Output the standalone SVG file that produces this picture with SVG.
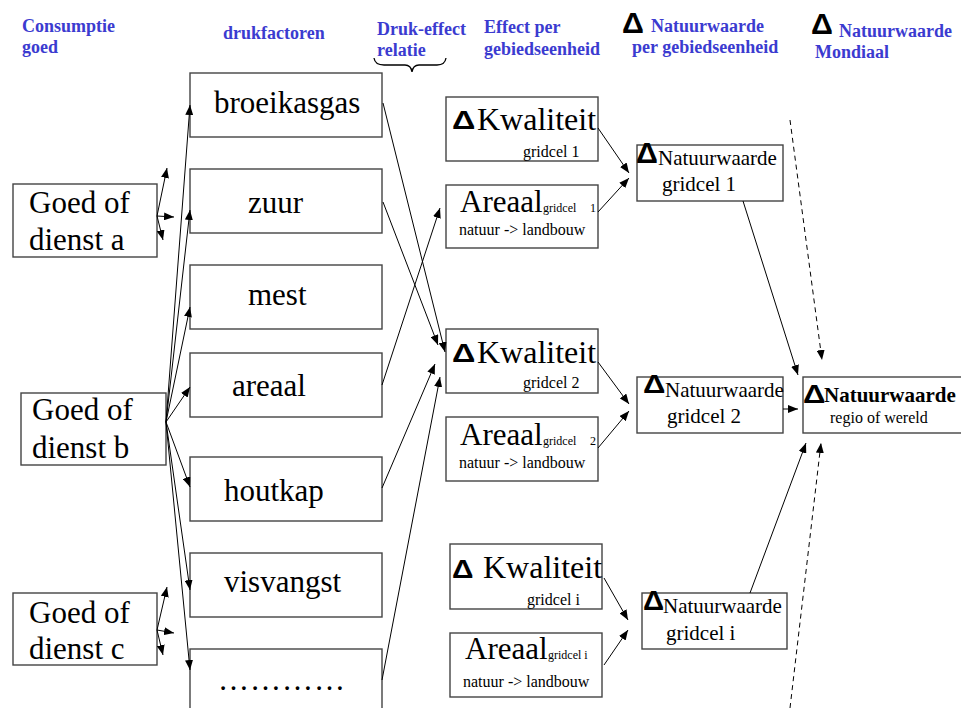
<svg xmlns="http://www.w3.org/2000/svg" width="961" height="708" viewBox="0 0 961 708">
<defs>
<marker id="ah" markerWidth="10" markerHeight="8" refX="10" refY="4" orient="auto" markerUnits="userSpaceOnUse">
<path d="M0,0 L10,4 L0,8 z" fill="#000"/>
</marker>
<style>
.hd{font-family:"Liberation Serif","Times New Roman",serif;font-weight:bold;font-size:18px;fill:#3b3bd0}
.box{fill:#fff;stroke:#444;stroke-width:1.4}
.big{font-family:"Liberation Serif","Times New Roman",serif;font-size:31px;fill:#000}
.kw{font-family:"Liberation Serif","Times New Roman",serif;font-size:32px;fill:#000}
.med{font-family:"Liberation Serif","Times New Roman",serif;font-size:21px;fill:#000}
.sm{font-family:"Liberation Serif","Times New Roman",serif;font-size:16px;fill:#000}
.xs{font-family:"Liberation Serif","Times New Roman",serif;font-size:12px;fill:#000}
.tri{font-family:"Liberation Sans",Arial,sans-serif;font-weight:bold;fill:#000}
.ln{stroke:#000;stroke-width:1;fill:none;marker-end:url(#ah)}
.dl{stroke:#000;stroke-width:1;fill:none;stroke-dasharray:5,4;marker-end:url(#ah)}
</style>
</defs>
<rect width="961" height="708" fill="#fff"/>

<g id="headers">
<text class="hd" x="22" y="32">Consumptie</text>
<text class="hd" x="22" y="53">goed</text>
<text class="hd" x="223" y="39">drukfactoren</text>
<text class="hd" x="377" y="35">Druk-effect</text>
<text class="hd" x="377" y="56">relatie</text>
<path d="M374,58 Q375,65 384,65 L405,65 Q411,65 412,72 Q413,65 419,65 L437,65 Q445,65 446,58" stroke="#000" stroke-width="1.3" fill="none"/>
<text class="hd" x="484" y="33">Effect per</text>
<text class="hd" x="484" y="55">gebiedseenheid</text>
<text class="tri" transform="translate(622,33) scale(1.05,1)" font-size="29">Δ</text>
<text class="hd" x="651" y="32">Natuurwaarde</text>
<text class="hd" x="632" y="53">per gebiedseenheid</text>
<text class="tri" transform="translate(811,34) scale(1.05,1)" font-size="29">Δ</text>
<text class="hd" x="839" y="37">Natuurwaarde</text>
<text class="hd" x="815" y="58">Mondiaal</text>
</g>

<g id="goed-a"><rect class="box" x="13" y="184" width="144" height="73"/><text class="big" x="29" y="213">Goed of</text><text class="big" x="29" y="250">dienst a</text></g>
<g id="goed-b"><rect class="box" x="21" y="393" width="145" height="72"/><text class="big" x="32" y="420">Goed of</text><text class="big" x="32" y="458">dienst b</text></g>
<g id="goed-c"><rect class="box" x="13" y="593" width="144" height="72"/><text class="big" x="29" y="623">Goed of</text><text class="big" x="29" y="659">dienst c</text></g>

<g id="broeikasgas"><rect class="box" x="190" y="73" width="192" height="64"/><text class="big" x="214" y="113">broeikasgas</text></g>
<g id="zuur"><rect class="box" x="190" y="169" width="192" height="64"/><text class="big" x="248" y="213">zuur</text></g>
<g id="mest"><rect class="box" x="190" y="265" width="192" height="64"/><text class="big" x="248" y="305">mest</text></g>
<g id="areaal"><rect class="box" x="190" y="353" width="192" height="64"/><text class="big" x="232" y="396">areaal</text></g>
<g id="houtkap"><rect class="box" x="190" y="457" width="192" height="64"/><text class="big" x="224" y="501">houtkap</text></g>
<g id="visvangst"><rect class="box" x="190" y="553" width="192" height="64"/><text class="big" x="224" y="592">visvangst</text></g>
<g id="overig"><rect class="box" x="190" y="649" width="192" height="70"/><text class="big" x="218" y="690" letter-spacing="1">…………</text></g>

<g id="kwaliteit-1"><rect class="box" x="446" y="97" width="152" height="64"/><text class="tri" transform="translate(452,129) scale(1.25,1)" font-size="26">Δ</text><text class="kw" x="477" y="130">Kwaliteit</text><text class="sm" x="523" y="157" font-size="18">gridcel 1</text></g>
<g id="areaal-1"><rect class="box" x="446" y="185" width="152" height="63"/><text class="big" x="460" y="212">Areaal</text><text class="xs" x="543" y="212">gridcel</text><text class="xs" x="590" y="212">1</text><text class="sm" x="459" y="235">natuur -&gt; landbouw</text></g>
<g id="kwaliteit-2"><rect class="box" x="446" y="329" width="152" height="64"/><text class="tri" transform="translate(452,362) scale(1.25,1)" font-size="26">Δ</text><text class="kw" x="477" y="363">Kwaliteit</text><text class="sm" x="523" y="388" font-size="18">gridcel 2</text></g>
<g id="areaal-2"><rect class="box" x="446" y="417" width="152" height="64"/><text class="big" x="460" y="445">Areaal</text><text class="xs" x="543" y="445">gridcel</text><text class="xs" x="590" y="445">2</text><text class="sm" x="459" y="468">natuur -&gt; landbouw</text></g>
<g id="kwaliteit-i"><rect class="box" x="450" y="544" width="152" height="65"/><text class="tri" transform="translate(452,578) scale(1.15,1)" font-size="26">Δ</text><text class="kw" x="483" y="578">Kwaliteit</text><text class="sm" x="527" y="605" font-size="18">gridcel i</text></g>
<g id="areaal-i"><rect class="box" x="450" y="633" width="152" height="64"/><text class="big" x="465" y="659">Areaal</text><text class="xs" x="548" y="659">gridcel i</text><text class="sm" x="463" y="687">natuur -&gt; landbouw</text></g>

<g id="nw-1"><rect class="box" x="637" y="145" width="146" height="56"/><text class="tri" transform="translate(636,163) scale(1.05,1)" font-size="29">Δ</text><text class="med" x="658" y="165">Natuurwaarde</text><text class="med" x="662" y="191">gridcel 1</text></g>
<g id="nw-2"><rect class="box" x="637" y="377" width="146" height="56"/><text class="tri" transform="translate(643,393) scale(1.2,1)" font-size="26">Δ</text><text class="med" x="665" y="397">Natuurwaarde</text><text class="med" x="667" y="423">gridcel 2</text></g>
<g id="nw-i"><rect class="box" x="642" y="593" width="145" height="56"/><text class="tri" transform="translate(643,610) scale(1.05,1)" font-size="28">Δ</text><text class="med" x="663" y="613">Natuurwaarde</text><text class="med" x="666" y="640">gridcel i</text></g>
<g id="nw-wereld"><rect class="box" x="803" y="377" width="170" height="56"/><text class="tri" transform="translate(803,403) scale(1.2,1)" font-size="26">Δ</text><text class="med" x="824" y="402" font-weight="bold">Natuurwaarde</text><text class="sm" x="830" y="423" font-size="18">regio of wereld</text></g>

<g id="connectors">
<path class="ln" d="M157,216 L167,168"/>
<path class="ln" d="M157,216 L174,217"/>
<path class="ln" d="M157,216 L163,240"/>
<path class="ln" d="M166,422 L190,105"/>
<path class="ln" d="M166,422 L190,210"/>
<path class="ln" d="M166,422 L190,307"/>
<path class="ln" d="M166,422 L190,387"/>
<path class="ln" d="M166,422 L190,487"/>
<path class="ln" d="M166,422 L190,590"/>
<path class="ln" d="M166,422 L190,670"/>
<path class="ln" d="M157,630 L167,587"/>
<path class="ln" d="M157,630 L174,633"/>
<path class="ln" d="M157,630 L163,655"/>
<path class="ln" d="M383,103 L445,352"/>
<path class="ln" d="M383,202 L438,345"/>
<path class="ln" d="M382,385 L440,208"/>
<path class="ln" d="M382,488 L435,364"/>
<path class="ln" d="M382,680 L440,377"/>
<path class="ln" d="M598,128 L629,173"/>
<path class="ln" d="M598,212 L629,178"/>
<path class="ln" d="M598,362 L629,404"/>
<path class="ln" d="M598,448 L629,411"/>
<path class="ln" d="M604,578 L628,620"/>
<path class="ln" d="M604,665 L628,630"/>
<path class="ln" d="M743,201 L798,375"/>
<path class="ln" d="M783,409 L798,409"/>
<path class="ln" d="M750,593 L806,443"/>
<path class="dl" d="M790,120 L822,360"/>
<path class="dl" d="M790,708 L821,443"/>
</g>
</svg>
